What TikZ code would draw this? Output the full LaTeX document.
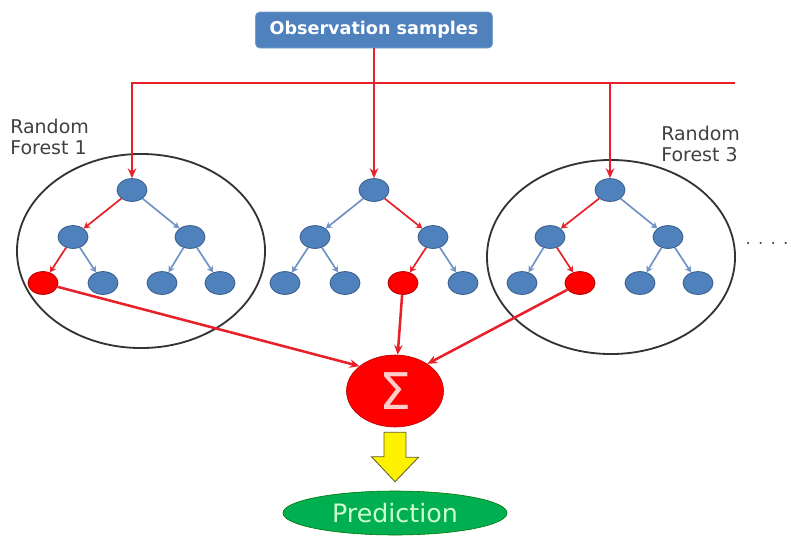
\documentclass[tikz,border=0pt]{standalone}
\usepackage{fontspec}
\setmainfont{DejaVu Sans}
\usetikzlibrary{shapes.geometric, arrows.meta, positioning, calc}

\definecolor{nodeblue}{RGB}{79,129,189}
\definecolor{nodeline}{RGB}{56,93,138}
\definecolor{edgeblue}{RGB}{112,146,196}
\definecolor{votered}{RGB}{232,32,42}
\definecolor{leafred}{RGB}{255,0,0}
\definecolor{predgreen}{RGB}{0,176,80}

\begin{document}
\begin{tikzpicture}[x=0.025cm, y=-0.025cm,
        tree/.style={ellipse, draw=nodeline, fill=nodeblue, line width=0.6pt, minimum width=0.75cm, minimum height=0.57cm, inner sep=0pt},
        hit/.style={tree, draw=red!70!black, fill=leafred},
        forest/.style={ellipse, draw=black!80, line width=1.3pt, minimum width=6.2cm, minimum height=4.85cm, inner sep=0pt},
        caption/.style={align=left, text=black!75, inner sep=0pt, font=\fontsize{13.5}{15}\selectfont},
        sample/.style={rectangle, rounded corners=3pt, draw=nodeblue!75!white, fill=nodeblue, minimum width=5.925cm, minimum height=0.9cm, text=white, font=\bfseries\fontsize{12.5}{14}\selectfont},
        sum/.style={ellipse, draw=red!70!black, fill=leafred, minimum width=2.425cm, minimum height=1.8cm, inner sep=0pt, text=white!80!red, font=\fontsize{36}{36}\selectfont},
        fatarrow/.style={draw=olive!60!black, fill=yellow, line width=0.6pt, line join=miter},
        pred/.style={ellipse, draw=green!45!black, fill=predgreen, minimum width=5.6cm, minimum height=1.1cm, text=white!80!green, font=\fontsize{18}{18}\selectfont},
        branch/.style={-{Stealth[length=4.5pt, width=5pt]}, edgeblue, line width=1.2pt},
        redbranch/.style={branch, votered},
        feed/.style={-{Stealth[length=7pt, width=6pt]}, votered, line width=1.8pt}]

    \useasboundingbox (0,0) rectangle (791,535);

    % Input samples
    \node[sample] (obs) at (374,30) {Observation samples};
    \coordinate (busL) at (132,83);
    \coordinate (busR) at (735,83);

    % Forest outlines and captions
    \node[forest] (rf1) at (141,251) {};
    \node[forest] (rf3) at (611,257) {};
    \node[caption, anchor=north west] (cap1) at (10,119) {Random\\Forest 1};
    \node[caption, anchor=north west] (cap3) at (661,126) {Random\\Forest 3};
    \node[text=black!70, font=\fontsize{12}{12}\selectfont] (more) at (767,243) {. . . .};

    % Tree 1
    \node[tree] (t1r) at (132,190) {};
    \node[tree] (t1a) at (73,237) {};
    \node[tree] (t1b) at (190,237) {};
    \node[hit] (t1aa) at (43,283) {};
    \node[tree] (t1ab) at (103,283) {};
    \node[tree] (t1ba) at (162,283) {};
    \node[tree] (t1bb) at (220,283) {};

    % Tree 2
    \node[tree] (t2r) at (374,190) {};
    \node[tree] (t2a) at (315,237) {};
    \node[tree] (t2b) at (433,237) {};
    \node[tree] (t2aa) at (285,283) {};
    \node[tree] (t2ab) at (345,283) {};
    \node[hit] (t2ba) at (403,283) {};
    \node[tree] (t2bb) at (463,283) {};

    % Tree 3
    \node[tree] (t3r) at (610,190) {};
    \node[tree] (t3a) at (550,237) {};
    \node[tree] (t3b) at (668,237) {};
    \node[tree] (t3aa) at (522,283) {};
    \node[hit] (t3ab) at (580,283) {};
    \node[tree] (t3ba) at (640,283) {};
    \node[tree] (t3bb) at (698,283) {};

    % Aggregation and output
    \node[sum] (sigma) at (395,391) {Σ};
    \node[pred] (result) at (395,513) {Prediction};

    % Sample feed
    \draw[feed] (obs) -- (t2r);
    \draw[feed] (busR) -- (busL) -- (t1r);
    \draw[feed] (t3r |- busR) -- (t3r);

    % Tree branches
    \draw[redbranch] (t1r) -- (t1a);
    \draw[branch] (t1r) -- (t1b);
    \draw[redbranch] (t1a) -- (t1aa);
    \draw[branch] (t1a) -- (t1ab);
    \draw[branch] (t1b) -- (t1ba);
    \draw[branch] (t1b) -- (t1bb);

    \draw[branch] (t2r) -- (t2a);
    \draw[redbranch] (t2r) -- (t2b);
    \draw[branch] (t2a) -- (t2aa);
    \draw[branch] (t2a) -- (t2ab);
    \draw[redbranch] (t2b) -- (t2ba);
    \draw[branch] (t2b) -- (t2bb);

    \draw[redbranch] (t3r) -- (t3a);
    \draw[branch] (t3r) -- (t3b);
    \draw[branch] (t3a) -- (t3aa);
    \draw[redbranch] (t3a) -- (t3ab);
    \draw[branch] (t3b) -- (t3ba);
    \draw[branch] (t3b) -- (t3bb);

    % Votes
    \draw[feed] (t1aa) -- (sigma.145);
    \draw[feed] (t2ba) -- (sigma);
    \draw[feed] (t3ab) -- (sigma.40);

    % Block arrow down to the prediction
    \draw[fatarrow] ($(sigma.south)+(-11,5)$) -- ++(22,0) -- ++(0,25) -- ++(12.5,0)
        -- ($(result.north)+(0,-9)$) -- ++(-23.5,-25) -- ++(12.5,0) -- cycle;

\end{tikzpicture}
\end{document}
